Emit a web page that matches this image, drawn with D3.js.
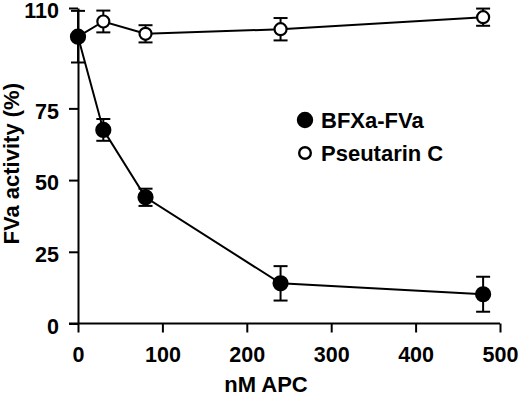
<!DOCTYPE html>
<html lang="en">
<head>
  <meta charset="UTF-8">
  <title>FVa activity vs APC</title>
  <script src="https://d3js.org/d3.v7.min.js"></script>
  <style>
    body {
      margin: 0;
      padding: 0;
      background: #fff;
    }
    svg text {
      font-family: "Liberation Sans", Arial, Helvetica, sans-serif;
      font-weight: bold;
      fill: #000;
    }
  </style>
</head>
<body>
<svg id="chart" width="520" height="398"></svg>
<script>
// nM APC
const apc = [0, 30, 80, 240, 480];

// BFXa-FVa (filled circles)
const bfxaMean = [100, 67.5, 44, 14, 10.2];
const bfxaErr = [9, 3.8, 3, 6, 6.1];

// Pseutarin C (open circles)
const pseutMean = [100, 105.3, 101, 102.6, 106.8];
const pseutErr = [0, 3.8, 3, 3.9, 3];

const xTicks = [0, 100, 200, 300, 400, 500];
const yTicks = [0, 25, 50, 75, 110];

const series = [
  {name: "BFXa-FVa", mean: bfxaMean, err: bfxaErr, filled: true},
  {name: "Pseutarin C", mean: pseutMean, err: pseutErr, filled: false}
];

const svg = d3.select("#chart");
const margin = {top: 8, right: 20, bottom: 74.5, left: 78};
const width = 520, height = 398;

const x = d3.scaleLinear().domain([0, 500]).range([margin.left, width - margin.right]);
const y = d3.scaleLinear().domain([0, 110]).range([height - margin.bottom, margin.top]);

// axes
const xAxis = svg.append("g")
  .attr("transform", `translate(0,${y(0)})`)
  .call(d3.axisBottom(x).tickValues(xTicks).tickSize(9).tickPadding(14).tickSizeOuter(0));
const yAxis = svg.append("g")
  .attr("transform", `translate(${x(0)},0)`)
  .call(d3.axisLeft(y).tickValues(yTicks).tickSize(9).tickPadding(10).tickSizeOuter(0));

[xAxis, yAxis].forEach(a => {
  a.select(".domain").attr("stroke", "#000").attr("stroke-width", 2);
  a.selectAll(".tick line").attr("stroke", "#000").attr("stroke-width", 2);
  a.selectAll(".tick text").style("font-size", "21.5px").attr("fill", "#000");
});
// y labels sit a little below their ticks
yAxis.selectAll(".tick text").attr("y", 3);
// extend x axis line left to the y tick end
xAxis.select(".domain").attr("d", `M${x(0) - 9},0H${x(500)}`);

// axis titles
svg.append("text")
  .attr("x", 266)
  .attr("y", 392)
  .attr("text-anchor", "middle")
  .style("font-size", "22px")
  .text("nM APC");

svg.append("text")
  .attr("transform", `translate(19,${(y(0) + y(110)) / 2 - 2}) rotate(-90)`)
  .attr("text-anchor", "middle")
  .style("font-size", "22px")
  .text("FVa activity (%)");

const line = d3.line().x(d => x(d.x)).y(d => y(d.y));

series.forEach(s => {
  const pts = apc.map((v, i) => ({x: v, y: s.mean[i], e: s.err[i]}));
  const g = svg.append("g");

  g.append("path")
    .datum(pts)
    .attr("d", line)
    .attr("fill", "none")
    .attr("stroke", "#000")
    .attr("stroke-width", 2);

  const eb = g.selectAll(".eb")
    .data(pts.filter(d => d.e > 0))
    .join("g");
  eb.append("line")
    .attr("x1", d => x(d.x)).attr("x2", d => x(d.x))
    .attr("y1", d => y(d.y + d.e)).attr("y2", d => y(d.y - d.e));
  eb.append("line")
    .attr("x1", d => x(d.x) - 7).attr("x2", d => x(d.x) + 7)
    .attr("y1", d => y(d.y + d.e)).attr("y2", d => y(d.y + d.e));
  eb.append("line")
    .attr("x1", d => x(d.x) - 7).attr("x2", d => x(d.x) + 7)
    .attr("y1", d => y(d.y - d.e)).attr("y2", d => y(d.y - d.e));
  eb.selectAll("line").attr("stroke", "#000").attr("stroke-width", 2);
});

// markers on top: open first, filled last so the shared point at 0 is filled
[series[1], series[0]].forEach(s => {
  svg.append("g").selectAll("circle")
    .data(apc.map((v, i) => ({x: v, y: s.mean[i]})))
    .join("circle")
    .attr("cx", d => x(d.x))
    .attr("cy", d => y(d.y))
    .attr("r", s.filled ? 7 : 6)
    .attr("fill", s.filled ? "#000" : "#fff")
    .attr("stroke", "#000")
    .attr("stroke-width", 2.2);
});

// legend
const legend = svg.append("g").attr("transform", "translate(305,120)");
series.forEach((s, i) => {
  const row = legend.append("g").attr("transform", `translate(0,${i * 33})`);
  row.append("circle")
    .attr("r", s.filled ? 7 : 5.8)
    .attr("fill", s.filled ? "#000" : "#fff")
    .attr("stroke", "#000")
    .attr("stroke-width", 2.4);
  row.append("text")
    .attr("x", 16)
    .attr("y", 8)
    .style("font-size", "22px")
    .text(s.name);
});
</script>
</body>
</html>
